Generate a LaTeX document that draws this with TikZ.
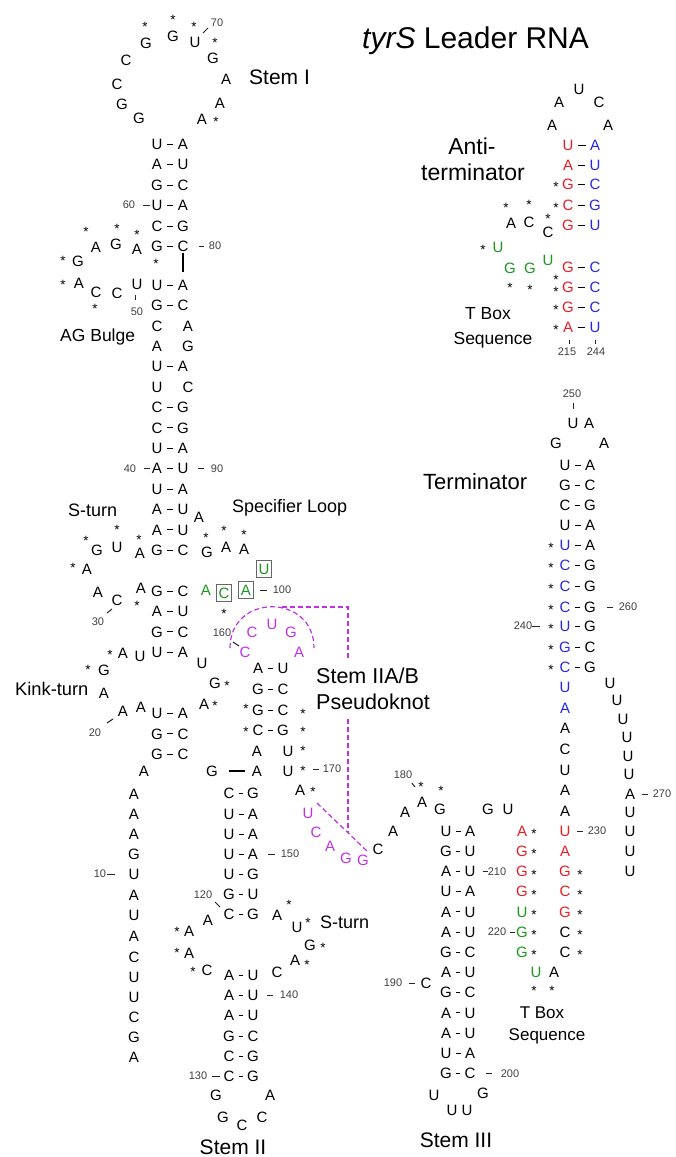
\documentclass[tikz,border=0pt]{standalone}
\usepackage{fontspec}
\setmainfont{Liberation Sans}
\definecolor{rd}{RGB}{232,30,36}
\definecolor{bl}{RGB}{40,40,225}
\definecolor{gn}{RGB}{30,150,30}
\definecolor{mg}{RGB}{190,50,230}
\newcounter{nn}
\newcommand\nuc[4][black]{\stepcounter{nn}\node[nt,text=#1] (u\arabic{nn}) at (#2,#3) {#4};}
\newcommand\bx[4][gn]{\stepcounter{nn}\node[nt,text=#1,draw=black!60,line width=0.8pt,minimum width=15pt,minimum height=17pt] (x\arabic{nn}) at (#2,#3) {#4};}
\newcommand\astr[2]{\stepcounter{nn}\node[ast] (s\arabic{nn}) at (#1,#2) {*};}
\newcommand\numl[3]{\stepcounter{nn}\node[num] (m\arabic{nn}) at (#1,#2) {#3};}
\newcommand\tkl[4]{\draw[tk] (#1,#2) -- (#3,#4);}
\newcommand\pr[7]{\stepcounter{nn}\node[nt,text=#5] (pl\arabic{nn}) at (#1,#3) {#4};\node[nt,text=#7] (pr\arabic{nn}) at (#2,#3) {#6};\draw[bpl] (pl\arabic{nn}) -- (pr\arabic{nn});}
\newcommand\stA[3]{\pr{157}{183}{#1}{#2}{black}{#3}{black}}
\newcommand\stB[3]{\pr{258}{283}{#1}{#2}{black}{#3}{black}}
\newcommand\stC[3]{\pr{229}{253}{#1}{#2}{black}{#3}{black}}
\newcommand\stD[3]{\pr{446}{470}{#1}{#2}{black}{#3}{black}}
\newcommand\lab[5]{\stepcounter{nn}\node[inner sep=0pt,anchor=#2,font=\fontsize{#1}{#1}\selectfont] (l\arabic{nn}) at ({#3},{#4+0.358*#1}) {#5};}
\begin{document}
\begin{tikzpicture}[x=1pt,y=-1pt,
  nt/.style={inner sep=0pt,font=\fontsize{15}{15}\selectfont,text height=10.7pt,text depth=0pt},
  ast/.style={inner sep=0pt,font=\fontsize{13.5}{13.5}\selectfont,anchor=base,yshift=-7.6pt},
  num/.style={inner sep=0pt,font=\fontsize{11}{11}\selectfont,text=black!75,text height=7.9pt,text depth=0pt},
  tk/.style={line width=1pt,black!85},
  bpl/.style={line width=0.9pt,shorten >=4.3pt,shorten <=4.3pt},
  pk/.style={mg,line width=1.2pt,dash pattern=on 5pt off 3pt}]
\useasboundingbox[fill=white] (0,0) rectangle (675,1157);

% ---------- Stem I loop ----------
\nuc{146}{43}{G}\astr{145}{24}
\nuc{173}{36}{G}\astr{173}{17}
\nuc{195}{42}{U}\astr{194}{24}
\nuc{213}{58}{G}\astr{215}{40}
\nuc{126}{60}{C}
\nuc{117}{84}{C}
\nuc{226}{79}{A}
\nuc{122}{104}{G}
\nuc{220}{103}{A}
\nuc{139}{118}{G}
\nuc{202}{119}{A}\astr{216}{119}
\numl{217}{23}{70}\tkl{203}{33}{208}{28}

% ---------- main stem ----------
\stA{144}{U}{A}
\stA{164.5}{A}{U}
\stA{185}{G}{C}
\stA{205}{U}{A}
\stA{226}{C}{G}
\stA{246}{G}{C}
\astr{156}{261}
\draw[line width=1.3pt] (183,253) -- (183,272);
\stA{285}{U}{A}
\stA{305.4}{G}{C}
\nuc{157}{325.8}{C}\nuc{188}{325.8}{A}
\nuc{157}{346.2}{A}\nuc{188}{346.2}{G}
\stA{366.6}{U}{A}
\nuc{157}{387}{U}\nuc{188}{387}{C}
\stA{407.4}{C}{G}
\stA{427.8}{C}{G}
\stA{448.2}{U}{A}
\stA{468.6}{A}{U}
\stA{489}{U}{A}
\stA{509.4}{A}{U}
\stA{529.8}{A}{U}
\stA{550.2}{G}{C}
\stA{591}{G}{C}
\stA{611.4}{A}{U}
\stA{631.8}{G}{C}
\stA{652.2}{U}{A}
\stA{713.4}{U}{A}
\stA{733.8}{G}{C}
\stA{754.2}{G}{C}
\numl{129}{205}{60}\tkl{143}{205}{150}{205}
\tkl{199}{246}{204}{246}\numl{215}{246}{80}
\numl{130}{468.6}{40}\tkl{144}{468.6}{150}{468.6}
\tkl{198}{468.6}{204}{468.6}\numl{217}{468.6}{90}

% ---------- AG bulge ----------
\astr{86}{229}\nuc{96}{247}{A}
\astr{117}{226}\nuc{116}{244}{G}
\astr{137}{232}\nuc{137}{249}{A}
\astr{63}{258}\nuc{78}{261}{G}
\astr{63}{282}\nuc{79}{283}{A}
\nuc{96}{292}{C}\astr{95}{306}
\nuc{117}{293}{C}
\nuc{137}{284}{U}
\tkl{135}{295}{135}{300}\numl{137}{312}{50}

% ---------- S-turn (left) ----------
\astr{86}{538}\nuc{97}{550}{G}
\astr{117}{527}\nuc{117}{547}{U}
\astr{139}{537}\nuc{140}{553}{A}
\astr{73}{565}\nuc{87}{569}{A}
\nuc{98}{592}{A}
\nuc{117}{600}{C}
\tkl{107}{613}{112}{609}\numl{98}{622}{30}
\astr{137}{603}
\nuc{141}{588}{A}

% ---------- Specifier loop ----------
\nuc{199}{517}{A}
\astr{206}{535}\nuc{207}{552}{G}
\astr{224}{528}\nuc{226}{547}{A}
\astr{244}{532}\nuc{244}{549}{A}
\bx{264}{569}{U}
\nuc[gn]{206}{590}{A}
\bx{224}{593}{C}
\bx{246}{590}{A}
\tkl{260}{590}{267}{590}\numl{282}{590}{100}
\astr{224}{611}

% ---------- Kink-turn ----------
\astr{110}{652}\nuc{123}{653}{A}
\nuc{140}{656}{U}
\astr{88}{667}\nuc{104}{670}{G}
\nuc{104}{693}{A}
\nuc{123}{711}{A}
\nuc{141}{707}{A}
\tkl{107}{723}{113}{719}\numl{95}{733}{20}
\nuc{202}{663}{U}
\nuc{144}{771}{A}
\nuc{134}{794}{A}
\nuc{134}{814}{A}
\nuc{134}{834}{A}
\nuc{134}{854}{G}
\nuc{134}{874}{U}\tkl{107}{874}{115}{874}\numl{100}{874}{10}
\nuc{134}{895}{A}
\nuc{134}{915}{U}
\nuc{134}{936}{A}
\nuc{134}{957}{C}
\nuc{134}{977}{U}
\nuc{134}{997}{U}
\nuc{134}{1017}{C}
\nuc{134}{1037}{G}
\nuc{134}{1057}{A}

% ---------- Stem IIA/B ----------
\nuc{215}{683}{G}\astr{227}{683}
\nuc{204}{704}{A}\astr{215}{703}
\stB{668}{A}{U}
\stB{689}{G}{C}
\stB{710}{G}{C}\astr{246}{706}\astr{303}{711}
\stB{730}{C}{G}\astr{246}{729}\astr{303}{729}
\nuc{257}{751}{A}\nuc{288}{751}{U}\astr{303}{748}
\node[nt] (gA) at (212,771) {G};
\node[nt] (aA) at (257,771) {A};
\draw[line width=1.3pt,shorten <=11pt,shorten >=7pt] (gA) -- (aA);
\nuc{288}{771}{U}\astr{303}{768}
\tkl{313}{769}{319}{769}\numl{332}{769}{170}
\nuc{300}{790}{A}\astr{313}{789}

% ---------- pseudoknot ----------
\nuc[mg]{245}{652}{C}
\nuc[mg]{252}{632}{C}
\nuc[mg]{272}{624}{U}
\nuc[mg]{291}{632}{G}
\nuc[mg]{299}{652}{A}
\numl{222}{633}{160}\tkl{233}{642}{239}{646}
\nuc[mg]{308}{813}{U}
\nuc[mg]{316}{832}{C}
\nuc[mg]{330}{846}{A}
\nuc[mg]{346}{858}{G}
\nuc[mg]{363}{860}{G}
\draw[pk] (230,648) .. controls (230,593) and (314,593) .. (314,648);
\draw[pk] (282,607) -- (348,607) -- (348,658);
\draw[pk] (348,719) -- (348,833);
\draw[pk] (317,803) -- (368,852);

% ---------- linker to Stem III ----------
\nuc{378}{849}{C}
\nuc{393}{831}{A}
\nuc{405}{812}{A}
\nuc{422}{802}{A}\astr{421}{784}
\numl{403}{775}{180}\tkl{412}{783}{415}{787}
\nuc{440}{809}{G}\astr{441}{788}
\nuc{488}{809}{G}
\nuc{508}{809}{U}

% ---------- Stem II ----------
\stC{793}{C}{G}
\stC{814}{U}{A}
\stC{834}{U}{A}
\stC{854}{U}{A}\tkl{268}{854}{275}{854}\numl{290}{854}{150}
\stC{874}{U}{G}
\stC{894}{G}{U}
\stC{914}{C}{G}
\numl{203}{895}{120}\tkl{215}{902}{220}{907}
\stC{975}{A}{U}
\stC{995}{A}{U}\tkl{267}{995}{273}{995}\numl{289}{995}{140}
\stC{1015}{A}{U}
\stC{1036}{G}{C}
\stC{1056}{C}{G}
\stC{1076}{C}{G}\numl{198}{1076}{130}\tkl{212}{1076}{220}{1076}
\nuc{208}{920}{A}
\astr{177}{929}\nuc{189}{931}{A}
\astr{177}{950}\nuc{189}{953}{A}
\astr{193}{969}\nuc{207}{970}{C}
\nuc{277}{915}{A}\astr{289}{902}
\nuc{297}{927}{U}\astr{308}{920}
\nuc{310}{945}{G}\astr{323}{945}
\nuc{295}{960}{A}\astr{307}{962}
\nuc{277}{972}{C}
\nuc{216}{1095}{G}
\nuc{270}{1095}{A}
\nuc{223}{1117}{G}
\nuc{242}{1125}{C}
\nuc{262}{1117}{C}

% ---------- Stem III ----------
\stD{831}{U}{A}
\stD{851.2}{G}{U}
\stD{871.4}{A}{U}\tkl{483}{871.4}{488}{871.4}\numl{497}{871.4}{210}
\stD{891.6}{U}{A}
\stD{911.8}{A}{U}
\stD{932}{A}{U}
\stD{952.2}{G}{C}
\stD{972.4}{A}{U}
\stD{992.6}{G}{C}
\stD{1012.8}{A}{U}
\stD{1033}{A}{U}
\stD{1053.2}{U}{A}
\stD{1073.4}{G}{C}\tkl{486}{1073.4}{492}{1073.4}\numl{510}{1073.4}{200}
\nuc{426}{983}{C}\tkl{409}{983}{415}{983}\numl{393}{983}{190}
\nuc{434}{1095}{U}
\nuc{483}{1093}{G}
\nuc{452}{1110}{U}
\nuc{467}{1110}{U}

% ---------- T box (lower) ----------
\nuc[rd]{522}{831}{A}\astr{534}{831}
\nuc[rd]{522}{851.2}{G}\astr{534}{851.2}
\nuc[rd]{522}{871.4}{G}\astr{534}{871.4}
\nuc[rd]{522}{891.6}{G}\astr{534}{891.6}
\nuc[gn]{522}{911.8}{U}\astr{534}{911.8}
\nuc[gn]{522}{932}{G}\astr{534}{932}\numl{497}{932}{220}\tkl{510}{932}{515}{932}
\nuc[gn]{522}{952.2}{G}\astr{534}{952.2}
\nuc[gn]{536}{972}{U}
\nuc{554}{972}{A}
\astr{534}{988}\astr{552}{988}

% ---------- Terminator ----------
\numl{572}{394}{250}\tkl{573}{403}{573}{409}
\nuc{573}{423}{U}
\nuc{589}{423}{A}
\nuc{556}{443}{G}
\nuc{604}{443}{A}
\pr{565}{590}{465}{U}{black}{A}{black}
\pr{565}{590}{485}{G}{black}{C}{black}
\pr{565}{590}{505}{C}{black}{G}{black}
\pr{565}{590}{525}{U}{black}{A}{black}
\pr{565}{590}{545}{U}{bl}{A}{black}\astr{551}{545}
\pr{565}{590}{565}{C}{bl}{G}{black}\astr{551}{565}
\pr{565}{590}{586}{C}{bl}{G}{black}\astr{551}{586}
\pr{565}{590}{607}{C}{bl}{G}{black}\astr{551}{607}
\tkl{607}{607}{613}{607}\numl{628}{607}{260}
\pr{565}{590}{626}{U}{bl}{G}{black}\astr{551}{626}
\numl{523}{626}{240}\tkl{532}{626}{540}{626}
\pr{565}{590}{647}{G}{bl}{C}{black}\astr{551}{647}
\pr{565}{590}{667}{C}{bl}{G}{black}\astr{551}{667}
\nuc[bl]{565}{687}{U}
\nuc[bl]{565}{708}{A}
\nuc{565}{728}{A}
\nuc{565}{749}{C}
\nuc{565}{770}{U}
\nuc{565}{790}{A}
\nuc{565}{811}{A}
\nuc[rd]{565}{831}{U}\tkl{577}{831}{583}{831}\numl{597}{831}{230}
\nuc[rd]{565}{851.2}{A}
\nuc[rd]{565}{871.4}{G}\astr{580}{871.4}
\nuc[rd]{565}{891.6}{C}\astr{580}{891.6}
\nuc[rd]{565}{911.8}{G}\astr{580}{911.8}
\nuc{565}{932}{C}\astr{580}{932}
\nuc{565}{952.2}{C}\astr{580}{952.2}
\nuc{610}{683}{U}
\nuc{617}{700}{U}
\nuc{623}{719}{U}
\nuc{627}{737}{U}
\nuc{628}{756}{U}
\nuc{629}{774}{U}
\nuc{630}{794}{A}\tkl{642}{794}{648}{794}\numl{662}{794}{270}
\nuc{630}{812}{U}
\nuc{630}{831}{U}
\nuc{630}{851}{U}
\nuc{630}{871}{U}

% ---------- Anti-terminator ----------
\nuc{559}{102}{A}
\nuc{579}{89}{U}
\nuc{599}{102}{C}
\nuc{552}{125}{A}
\nuc{608}{125}{A}
\pr{568}{595}{145}{U}{rd}{A}{bl}
\pr{568}{595}{165}{A}{rd}{U}{bl}
\pr{568}{595}{184}{G}{rd}{C}{bl}\astr{556}{184}
\pr{568}{595}{205}{C}{rd}{G}{bl}\astr{556}{205}
\pr{568}{595}{225}{G}{rd}{U}{bl}
\pr{568}{595}{267}{G}{rd}{C}{bl}
\pr{568}{595}{287}{G}{rd}{C}{bl}\astr{556}{277}\astr{556}{289}
\pr{568}{595}{307}{G}{rd}{C}{bl}\astr{556}{307}
\pr{568}{595}{327}{A}{rd}{U}{bl}\astr{556}{327}
\tkl{569}{340}{569}{344}\numl{567}{352}{215}
\tkl{595}{340}{595}{344}\numl{596}{352}{244}
\astr{506}{205}\nuc{511}{223}{A}
\astr{529}{202}\nuc{529}{222}{C}
\astr{548}{216}\nuc{548}{232}{C}
\astr{483}{247}\nuc[gn]{498}{247}{U}
\nuc[gn]{510}{268}{G}
\nuc[gn]{530}{268}{G}
\nuc[gn]{548}{260}{U}
\astr{510}{285}\astr{530}{287}

% ---------- labels ----------
\lab{30}{base west}{362}{38}{\textit{tyrS} Leader RNA}
\lab{21}{base west}{249}{77}{Stem I}
\lab{23}{base}{472}{146}{Anti-}
\lab{23}{base}{473}{172}{terminator}
\lab{17.5}{base west}{60}{335}{AG Bulge}
\lab{17.5}{base}{488}{313}{T Box}
\lab{17.5}{base}{493}{338}{Sequence}
\lab{22}{base west}{423}{482}{Terminator}
\lab{18}{base west}{68}{510}{S-turn}
\lab{18}{base west}{232}{506}{Specifier Loop}
\lab{18.3}{base west}{15}{689}{Kink-turn}
\lab{21.5}{base west}{316}{676}{Stem IIA/B}
\lab{21.5}{base west}{316}{702}{Pseudoknot}
\lab{18}{base west}{320}{922}{S-turn}
\lab{17}{base}{542}{1012}{T Box}
\lab{17}{base}{547}{1034}{Sequence}
\lab{21}{base}{233}{1147}{Stem II}
\lab{21}{base}{456}{1140}{Stem III}
\end{tikzpicture}
\end{document}
